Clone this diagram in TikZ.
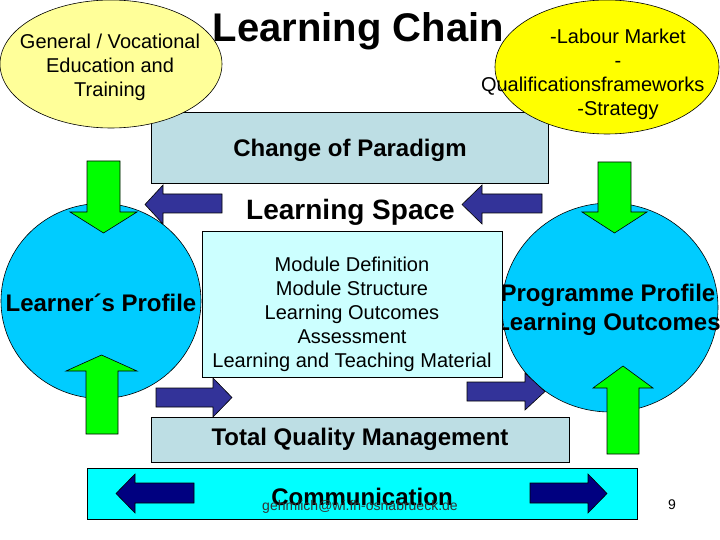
\documentclass[tikz,border=0pt]{standalone}
\usepackage{fontspec}
\setmainfont{Liberation Sans}
\usetikzlibrary{shapes.geometric}
\definecolor{paleyel}{RGB}{255,255,153}
\definecolor{brightyel}{RGB}{255,255,0}
\definecolor{greybox}{RGB}{189,222,228}
\definecolor{modbox}{RGB}{204,255,255}
\definecolor{circblue}{RGB}{0,204,255}
\definecolor{arrgreen}{RGB}{0,255,0}
\definecolor{arrblue}{RGB}{51,51,153}
\definecolor{navyarr}{RGB}{0,0,128}
\definecolor{commcyan}{RGB}{0,255,255}
\begin{document}
\begin{tikzpicture}[x=1pt,y=-1pt,
  outl/.style={draw=black,line width=0.6pt},
  ovalshape/.style={ellipse,outl,inner sep=0pt},
  boxshape/.style={rectangle,outl,inner sep=0pt},
  greenarr/.style={outl,fill=arrgreen},
  bluearr/.style={outl,fill=arrblue},
  navyblock/.style={outl,fill=navyarr},
  txt20/.style={font=\fontsize{20}{24}\selectfont,align=center,inner sep=0pt},
  bold24/.style={font=\fontsize{24}{28.8}\selectfont\bfseries,align=center,inner sep=0pt}]
\useasboundingbox (0,0) rectangle (720,540);
% top box
\node[boxshape,fill=greybox,minimum width=397pt,minimum height=71pt] (paradigm) at (349.5,147.5) {};
\node[bold24] (paradigmtxt) at (350,150.5) {Change of Paradigm};
% ellipses
\node[ovalshape,fill=paleyel,minimum width=222pt,minimum height=128pt] (lell) at (111,64) {};
\node[txt20] (ltext) at (110,67.5) {General / Vocational\\Education and\\Training};
\node[ovalshape,fill=brightyel,minimum width=224pt,minimum height=134pt] (rell) at (607,67) {};
\node[txt20] (rtext) at (618,74) {-Labour Market\\-\\\makebox[274pt][l]{Qualificationsframeworks}\\-Strategy};
% title
\node[font=\fontsize{40}{48}\selectfont\bfseries,inner sep=0pt,anchor=base] (title) at (358.5,42) {Learning Chain};
% circles
\node[ovalshape,fill=circblue,minimum width=200pt,minimum height=195pt] (lcirc) at (101,301) {};
\node[bold24] (ltxt) at (101,303) {Learner´s Profile};
\node[ovalshape,fill=circblue,minimum width=216pt,minimum height=209pt] (rcirc) at (610,307.5) {};
\node[bold24] (rtxt) at (608,309.5) {Programme Profile\\Learning Outcomes};
% module box
\node[boxshape,fill=modbox,minimum width=300pt,minimum height=146pt] (module) at (352,304) {};
\node[txt20] (moduletxt) at (352,314) {Module Definition\\Module Structure\\Learning Outcomes\\Assessment\\Learning and Teaching Material};
% green arrows
\draw[greenarr] (87,161) -- (120,161) -- (120,212) -- (137,212) -- (103.5,233) -- (70,212) -- (87,212) -- cycle;
\draw[greenarr] (86,434) -- (86,371) -- (66,371) -- (101.5,355) -- (137,371) -- (118,371) -- (118,434) -- cycle;
\draw[greenarr] (598,162) -- (631,162) -- (631,212) -- (647,212) -- (614.5,233) -- (582,212) -- (598,212) -- cycle;
\draw[greenarr] (607,454) -- (607,388) -- (593,388) -- (623,366) -- (653,388) -- (639,388) -- (639,454) -- cycle;
% blue arrows
\draw[bluearr] (222,194) -- (163,194) -- (163,185) -- (145,204.5) -- (163,224) -- (163,213) -- (222,213) -- cycle;
\draw[bluearr] (542,194) -- (482,194) -- (482,185) -- (462,204.5) -- (482,224) -- (482,213) -- (542,213) -- cycle;
\draw[bluearr] (156,388) -- (213,388) -- (213,378) -- (232,397.5) -- (213,417) -- (213,407) -- (156,407) -- cycle;
\draw[bluearr] (467,382) -- (525,382) -- (525,373) -- (545,391.5) -- (525,410) -- (525,401) -- (467,401) -- cycle;
% learning space
\node[font=\fontsize{28}{33.6}\selectfont\bfseries,inner sep=0pt,anchor=base] (space) at (350.5,220) {Learning Space};
% TQM
\node[boxshape,fill=greybox,minimum width=418pt,minimum height=45pt] (tqm) at (360,439.5) {};
\node[bold24] (tqmtxt) at (360,439) {Total Quality Management};
% communication bar
\node[boxshape,fill=commcyan,minimum width=550pt,minimum height=51pt] (comm) at (362,493.5) {};
\draw[navyblock] (194,483) -- (135,483) -- (135,474) -- (116,493.5) -- (135,513) -- (135,503) -- (194,503) -- cycle;
\draw[navyblock] (530,483) -- (588,483) -- (588,474) -- (607,493.5) -- (588,513) -- (588,503) -- (530,503) -- cycle;
\node[bold24] (commtxt) at (362,497) {Communication};
\node[font=\fontsize{14}{16.8}\selectfont,text=black!80,inner sep=0pt] (email) at (360,507) {gehmlich@wi.fh-osnabrueck.de};
\node[font=\fontsize{14}{16.8}\selectfont,inner sep=0pt] (pagenum) at (672,505) {9};
\end{tikzpicture}
\end{document}
